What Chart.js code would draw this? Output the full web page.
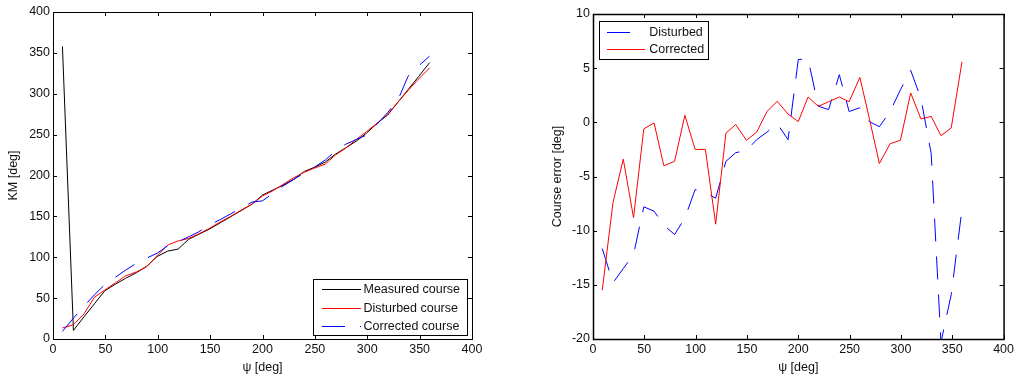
<!DOCTYPE html>
<html>
<head>
<meta charset="utf-8">
<script src="https://cdn.jsdelivr.net/npm/chart.js@4/dist/chart.umd.min.js"></script>
<style>
  body { margin: 0; background: #fff; }
  #wrap { position: relative; width: 1017px; height: 382px; }
  canvas { position: absolute; top: 0; }
  #left { left: 0; }
  #right { left: 510px; }
</style>
</head>
<body>
<div id="wrap">
  <canvas id="left" width="510" height="382" style="width:510px;height:382px"></canvas>
  <canvas id="right" width="507" height="382" style="width:507px;height:382px"></canvas>
</div>
<script>
// heading samples (deg), shared by both plots
const psi = [9, 19.5, 29.5, 39.5, 49.5, 59.5, 69, 79.5, 89.5, 99.5, 109.5, 119.5,
  129.5, 139, 149.5, 159.5, 169.5, 179.5, 190, 200, 209.5, 219.5, 229.5, 240,
  249.5, 260, 269.5, 279, 289.5, 299.5, 309.5, 319.5, 329.5, 339, 349, 359.5];

// left plot: KM [deg]
const measuredCourse = [358, 10.5, 27, 43, 59, 67, 74, 81, 89, 101, 107.5, 110,
  122, 128, 134.5, 142, 149.5, 157, 165, 176, 182, 188, 195, 205,
  210, 216.5, 226, 233.5, 242, 252, 264, 274, 290, 305, 321, 338];
const disturbedCourse = [13.5, 17.5, 30.5, 51, 60, 68.5, 77, 82, 88.5, 102, 115, 120,
  123, 128.5, 135.5, 143, 150, 157.5, 165, 175, 181, 189, 197, 204,
  209, 214, 225, 233, 244, 254, 264, 275, 290, 304, 318, 331.5];
const correctedCourse = [9.3, 25.5, 40, 54, 66.5, 75.5, 84, 92.5, 99, 105, 114, 119,
  125, 131, 139.5, 146, 153, 160, 167.5, 169, 177.7, 187, 195, 203,
  210, 219, 230, 238, 244, 249.5, 263, 277, 293, 321.5, 334, 346];

// right plot: course error [deg]
const errDisturbed = [-11.65, -14.8, -13.5, -12.2, -7.8, -8.2, -9.5, -10.35, -8.85, -6.2, -6.5, -7.0,
  -3.6, -2.8, -2.6, -1.6, -0.9, -0.12, -1.6, 5.8, 5.85, 1.5, 1.17, 4.4,
  1.0, 1.35, 0.05, -0.4, 1.0, 3.0, 4.8, 2.2, -2.9, -20.3, -15.9, -8.0];
const errCorrected = [-15.5, -7.4, -3.4, -8.8, -0.6, -0.06, -4.0, -3.6, 0.65, -2.5, -2.5, -9.4,
  -1.0, -0.2, -1.66, -0.9, 1.0, 1.94, 0.77, 0.07, 2.34, 1.48, 1.9, 2.34,
  1.9, 4.15, 0.25, -3.8, -1.97, -1.66, 2.71, 0.31, 0.55, -1.23, -0.52, 5.6];

const xLabel = "\u03c8 [deg]";
const FONT = { family: "'Liberation Sans', Arial, sans-serif", size: 12.5 };
const TXT = "#111";
const DASH = [23, 15];

function pts(vals) {
  return psi.map((x, i) => ({ x: x, y: vals[i] }));
}

// frame + inward ticks + legend box (matlab look)
const framePlugin = {
  id: "frame",
  afterDraw(chart, args, opts) {
    const ctx = chart.ctx;
    const a = chart.chartArea;
    const sx = chart.scales.x, sy = chart.scales.y;
    ctx.save();
    ctx.strokeStyle = "#000";
    ctx.lineWidth = opts.lw;
    ctx.strokeRect(a.left + 0.5, a.top + 0.5, a.right - a.left, a.bottom - a.top);
    ctx.lineWidth = 1;
    ctx.beginPath();
    for (const t of sx.ticks) {
      const p = Math.round(sx.getPixelForValue(t.value)) + 0.5;
      ctx.moveTo(p, a.bottom); ctx.lineTo(p, a.bottom - 4);
      ctx.moveTo(p, a.top); ctx.lineTo(p, a.top + 4);
    }
    for (const t of sy.ticks) {
      const p = Math.round(sy.getPixelForValue(t.value)) + 0.5;
      ctx.moveTo(a.left, p); ctx.lineTo(a.left + 4, p);
      ctx.moveTo(a.right, p); ctx.lineTo(a.right - 4, p);
    }
    ctx.stroke();

    // legend
    const L = opts.legend;
    ctx.fillStyle = "#fff";
    ctx.fillRect(L.x, L.y, L.w, L.h);
    ctx.strokeStyle = "#000";
    ctx.strokeRect(L.x + 0.5, L.y + 0.5, L.w, L.h);
    ctx.font = FONT.size + "px " + FONT.family;
    ctx.textBaseline = "middle";
    ctx.textAlign = "left";
    L.order.forEach((di, k) => {
      const ds = chart.data.datasets[di];
      const yy = Math.round(L.rows[k]) + 0.5;
      ctx.strokeStyle = ds.borderColor;
      ctx.setLineDash(ds.borderDash || []);
      ctx.beginPath();
      ctx.moveTo(L.s0, yy); ctx.lineTo(L.s1, yy);
      ctx.stroke();
      ctx.setLineDash([]);
      ctx.fillStyle = TXT;
      ctx.fillText(ds.label, L.tx, L.rows[k] + 0.5);
    });
    ctx.restore();
  }
};

function makeChart(id, datasets, yTitle, yMin, yMax, yStep, g) {
  return new Chart(document.getElementById(id), {
    type: "line",
    data: { datasets: datasets },
    plugins: [framePlugin],
    options: {
      responsive: false,
      animation: false,
      layout: { padding: { top: g.top, right: g.right, left: 0, bottom: 0 } },
      elements: { point: { radius: 0 }, line: { borderWidth: 1, tension: 0 } },
      plugins: {
        legend: { display: false },
        tooltip: { enabled: false },
        frame: { lw: g.lw, legend: g.legend }
      },
      scales: {
        x: {
          type: "linear", min: 0, max: 400,
          grid: { display: false, drawTicks: false },
          border: { display: false },
          ticks: { stepSize: 50, padding: 3, font: FONT, color: TXT, maxRotation: 0, autoSkip: false },
          title: { display: true, text: xLabel, font: FONT, color: TXT, padding: { top: 0, bottom: 6.5 } },
          afterFit(s) { s.height = 43; }
        },
        y: {
          type: "linear", min: yMin, max: yMax,
          grid: { display: false, drawTicks: false },
          border: { display: false },
          ticks: { stepSize: yStep, padding: 3, font: FONT, color: TXT, autoSkip: false },
          title: { display: true, text: yTitle, font: FONT, color: TXT, padding: { top: g.titlePad, bottom: 0 } },
          afterFit(s) { s.width = g.yw; }
        }
      }
    }
  });
}

makeChart("left", [
  { label: "Measured course", data: pts(measuredCourse), borderColor: "#000000", order: 3 },
  { label: "Disturbed course", data: pts(disturbedCourse), borderColor: "#ff0000", order: 2 },
  { label: "Corrected course", data: pts(correctedCourse), borderColor: "#0000ff", borderDash: DASH, order: 1 }
], "KM [deg]", 0, 400, 50, {
  top: 12, right: 38, yw: 53, titlePad: 6.5, lw: 1,
  legend: { x: 313, y: 279, w: 154, h: 56, rows: [289.3, 308.3, 325.7], s0: 322, s1: 361, tx: 363.5, order: [0, 1, 2] }
});

makeChart("right", [
  { label: "Disturbed", data: pts(errDisturbed), borderColor: "#0000ff", borderDash: DASH, order: 2 },
  { label: "Corrected", data: pts(errCorrected), borderColor: "#ff0000", order: 1 }
], "Course error [deg]", -20, 10, 5, {
  top: 14, right: 11, yw: 83, titlePad: 40.5, lw: 1.5,
  legend: { x: 89, y: 21, w: 109, h: 38, rows: [31.7, 49.3], s0: 97, s1: 135, tx: 139.3, order: [0, 1] }
});
</script>
</body>
</html>
